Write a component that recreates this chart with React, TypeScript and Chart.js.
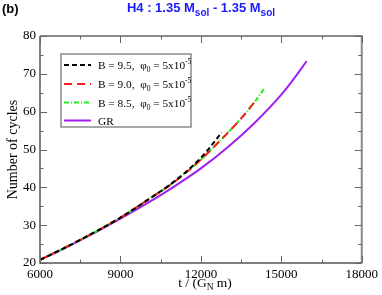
import React, { useEffect, useRef } from "react";
import { Chart, registerables } from "chart.js";

Chart.register(...registerables);

const xTicks = [6000, 9000, 12000, 15000, 18000];
const yTicks = [20, 30, 40, 50, 60, 70, 80];

const tGR = [6000, 7000, 8000, 9000, 10000, 11000, 12000, 13000, 14000, 15000, 15500, 15946];
const nGR = [20.8, 24.2, 27.8, 31.7, 35.8, 40.2, 45.0, 50.6, 57.0, 64.5, 69.0, 73.4];

const tB85 = [6000, 7000, 8000, 9000, 10000, 11000, 12000, 12500, 13000, 13500, 14000, 14372];
const nB85 = [20.8, 24.3, 28.0, 32.0, 36.6, 41.4, 47.3, 50.8, 54.4, 58.2, 62.5, 66.2];

const tB90 = [6000, 7000, 8000, 9000, 10000, 11000, 12000, 12500, 13000, 13500, 14020];
const nB90 = [20.8, 24.3, 28.0, 32.0, 36.6, 41.4, 47.3, 50.8, 54.4, 58.2, 62.7];

const tB95 = [6000, 7000, 8000, 9000, 10000, 11000, 12000, 12500, 12776];
const nB95 = [20.8, 24.3, 28.0, 32.0, 36.6, 41.5, 47.8, 52.0, 54.5];

const legendLabels = ["B = 9.5,", "B = 9.0,", "B = 8.5,", "GR"];

const pts = (t: number[], n: number[]) => t.map((v, i) => ({ x: v, y: n[i] }));

type Part = { text: string; font: string; dy: number };

function drawRich(ctx: CanvasRenderingContext2D, parts: Part[], x: number, y: number, align: "left" | "center") {
  let w = 0;
  for (const p of parts) {
    ctx.font = p.font;
    w += ctx.measureText(p.text).width;
  }
  let cx = align === "center" ? x - w / 2 : x;
  ctx.textAlign = "left";
  ctx.textBaseline = "alphabetic";
  for (const p of parts) {
    ctx.font = p.font;
    ctx.fillText(p.text, cx, y + p.dy);
    cx += ctx.measureText(p.text).width;
  }
}

const serif = "'Liberation Serif', 'Times New Roman', serif";
const sans = "'Liberation Sans', Arial, sans-serif";

const decorPlugin = {
  id: "decor",
  afterDraw(chart: any) {
    const ctx: CanvasRenderingContext2D = chart.ctx;
    const { left, right, top, bottom } = chart.chartArea;
    const xs = chart.scales.x;
    const ys = chart.scales.y;
    ctx.save();

    // frame
    ctx.strokeStyle = "#8a8a8a";
    ctx.lineWidth = 2;
    ctx.beginPath();
    ctx.moveTo(left, top);
    ctx.lineTo(right, top);
    ctx.lineTo(right, bottom);
    ctx.stroke();
    ctx.strokeStyle = "#555";
    ctx.lineWidth = 1.5;
    ctx.beginPath();
    ctx.moveTo(left, top);
    ctx.lineTo(left, bottom);
    ctx.lineTo(right, bottom);
    ctx.stroke();

    // ticks
    ctx.strokeStyle = "#666";
    ctx.lineWidth = 1;
    ctx.beginPath();
    for (let v = 6000; v <= 18000; v += 1500) {
      const px = Math.round(xs.getPixelForValue(v)) + 0.5;
      const len = v % 3000 === 0 ? 7 : 3.5;
      ctx.moveTo(px, bottom);
      ctx.lineTo(px, bottom - len);
      ctx.moveTo(px, top);
      ctx.lineTo(px, top + len);
    }
    for (let v = 20; v <= 80; v += 5) {
      const py = Math.round(ys.getPixelForValue(v)) + 0.5;
      const len = v % 10 === 0 ? 7 : 3.5;
      ctx.moveTo(left, py);
      ctx.lineTo(left + len, py);
      ctx.moveTo(right, py);
      ctx.lineTo(right - len, py);
    }
    ctx.stroke();

    // title
    ctx.fillStyle = "#1a1aff";
    drawRich(
      ctx,
      [
        { text: "H4 : 1.35 M", font: `bold 13px ${sans}`, dy: 0 },
        { text: "sol", font: `bold 10px ${sans}`, dy: 4 },
        { text: " - 1.35 M", font: `bold 13px ${sans}`, dy: 0 },
        { text: "sol", font: `bold 10px ${sans}`, dy: 4 },
      ],
      201,
      12,
      "center"
    );
    ctx.fillStyle = "#000";
    ctx.font = `bold 13px ${sans}`;
    ctx.textAlign = "left";
    ctx.fillText("(b)", 2, 13);

    // x title
    drawRich(
      ctx,
      [
        { text: "t / (G", font: `13.5px ${serif}`, dy: 0 },
        { text: "N", font: `9.5px ${serif}`, dy: 3 },
        { text: " m)", font: `13.5px ${serif}`, dy: 0 },
      ],
      205,
      287,
      "center"
    );

    // y title
    ctx.save();
    ctx.translate(17, (top + bottom) / 2);
    ctx.rotate(-Math.PI / 2);
    ctx.font = `14px ${serif}`;
    ctx.textAlign = "center";
    ctx.textBaseline = "alphabetic";
    ctx.fillText("Number of cycles", 0, 0);
    ctx.restore();

    // legend
    const lx = 61, ly = 54, lw = 130, lh = 73;
    ctx.fillStyle = "#fff";
    ctx.fillRect(lx, ly, lw, lh);
    ctx.strokeStyle = "#8a8a8a";
    ctx.lineWidth = 1.5;
    ctx.strokeRect(lx, ly, lw, lh);
    const ds = chart.data.datasets;
    const rowY = [65, 84, 102.5, 120.5];
    [0, 1, 2, 3].forEach((di, i) => {
      const d = ds[di];
      const y = rowY[i];
      ctx.strokeStyle = d.borderColor;
      ctx.lineWidth = 2;
      ctx.setLineDash(d.borderDash || []);
      ctx.beginPath();
      ctx.moveTo(64, y);
      ctx.lineTo(91, y);
      ctx.stroke();
      ctx.setLineDash([]);
      ctx.fillStyle = "#000";
      if (i < 3) {
        drawRich(
          ctx,
          [
            { text: legendLabels[i] + "  \u03c6", font: `11.3px ${serif}`, dy: 0 },
            { text: "0", font: `7.5px ${serif}`, dy: 3 },
            { text: " = 5x10", font: `11.3px ${serif}`, dy: 0 },
            { text: "-5", font: `7.5px ${serif}`, dy: -5 },
          ],
          98,
          y + 4,
          "left"
        );
      } else {
        ctx.font = `11.3px ${serif}`;
        ctx.textAlign = "left";
        ctx.fillText(legendLabels[i], 98, y + 4);
      }
    });

    ctx.restore();
  },
};

export default function App() {
  const ref = useRef<HTMLCanvasElement>(null);
  useEffect(() => {
    document.body.style.margin = "0";
    const mk = (label: string, t: number[], n: number[], color: string, dash: number[], order: number) => ({
      label,
      data: pts(t, n),
      borderColor: color,
      borderDash: dash,
      borderWidth: 2,
      pointRadius: 0,
      cubicInterpolationMode: "monotone",
      order,
    });
    const chart = new Chart(ref.current!, {
      type: "line",
      data: {
        datasets: [
          mk("B = 9.5", tB95, nB95, "#000000", [5, 3], 1),
          mk("B = 9.0", tB90, nB90, "#ff1a1a", [8, 5], 2),
          mk("B = 8.5", tB85, nB85, "#22ee22", [5, 2, 1, 2], 3),
          mk("GR", tGR, nGR, "#a020f0", [], 4),
        ],
      },
      options: {
        animation: false,
        responsive: false,
        layout: { padding: { left: 0, top: 36, right: 18, bottom: 0 } },
        plugins: { legend: { display: false }, title: { display: false }, tooltip: { enabled: false } },
        scales: {
          x: {
            type: "linear",
            min: 6000,
            max: 18000,
            grid: { display: false, drawTicks: false, tickLength: 0 },
            border: { display: false },
            afterBuildTicks: (s: any) => {
              s.ticks = xTicks.map((v) => ({ value: v }));
            },
            afterFit: (s: any) => {
              s.height = 32;
            },
            ticks: {
              maxRotation: 0,
              autoSkip: false,
              padding: 4,
              color: "#000",
              font: { family: serif, size: 13 },
              callback: (v: any) => String(v),
            },
          },
          y: {
            type: "linear",
            min: 20,
            max: 80,
            grid: { display: false, drawTicks: false, tickLength: 0 },
            border: { display: false },
            afterBuildTicks: (s: any) => {
              s.ticks = yTicks.map((v) => ({ value: v }));
            },
            afterFit: (s: any) => {
              s.width = 40;
            },
            ticks: {
              padding: 4,
              color: "#000",
              font: { family: serif, size: 13 },
              callback: (v: any) => String(v),
            },
          },
        },
      },
      plugins: [decorPlugin],
    } as any);
    return () => chart.destroy();
  }, []);
  return <canvas ref={ref} width={382} height={295} style={{ display: "block" }} />;
}
